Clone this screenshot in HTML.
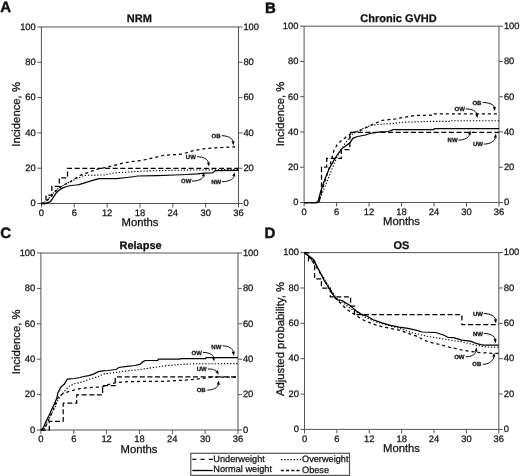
<!DOCTYPE html>
<html><head><meta charset="utf-8"><title>Figure</title>
<style>
html,body{margin:0;padding:0;background:#fff;}
body{width:520px;height:476px;overflow:hidden;}
svg{display:block;will-change:transform;text-rendering:geometricPrecision;font-family:"Liberation Sans",sans-serif;}
</style></head><body>
<svg width="520" height="476" viewBox="0 0 520 476">
<rect width="520" height="476" fill="#fff"/>
<g><rect x="41.4" y="27" width="197.1" height="176.5" fill="none" stroke="#555" stroke-width="1.0"/><path d="M37.4 203.5H41.4M238.5 203.5H242.5M37.4 168.2H41.4M238.5 168.2H242.5M37.4 132.9H41.4M238.5 132.9H242.5M37.4 97.6H41.4M238.5 97.6H242.5M37.4 62.3H41.4M238.5 62.3H242.5M37.4 27H41.4M238.5 27H242.5M41.4 203.5V207.5M74.25 203.5V207.5M107.1 203.5V207.5M139.95 203.5V207.5M172.8 203.5V207.5M205.65 203.5V207.5M238.5 203.5V207.5" fill="none" stroke="#555" stroke-width="1.0"/><g font-size="9.4" fill="#111" stroke="#111" stroke-width="0.25"><text x="35.8" y="206.3" text-anchor="end">0</text><text x="243.4" y="206.3">0</text><text x="35.8" y="171" text-anchor="end">20</text><text x="243.4" y="171">20</text><text x="35.8" y="135.7" text-anchor="end">40</text><text x="243.4" y="135.7">40</text><text x="35.8" y="100.4" text-anchor="end">60</text><text x="243.4" y="100.4">60</text><text x="35.8" y="65.1" text-anchor="end">80</text><text x="243.4" y="65.1">80</text><text x="35.8" y="29.8" text-anchor="end">100</text><text x="243.4" y="29.8">100</text><text x="41.4" y="215.7" text-anchor="middle">0</text><text x="74.25" y="215.7" text-anchor="middle">6</text><text x="107.1" y="215.7" text-anchor="middle">12</text><text x="139.95" y="215.7" text-anchor="middle">18</text><text x="172.8" y="215.7" text-anchor="middle">24</text><text x="205.65" y="215.7" text-anchor="middle">30</text><text x="238.5" y="215.7" text-anchor="middle">36</text></g><text x="140" y="226.1" text-anchor="middle" font-size="11.3" fill="#111" stroke="#111" stroke-width="0.25">Months</text><text transform="translate(20.4 114.4) rotate(-90)" text-anchor="middle" font-size="11.3" fill="#111" stroke="#111" stroke-width="0.25">Incidence, %</text><text x="139.3" y="21.9" text-anchor="middle" font-size="11" font-weight="bold" fill="#111" stroke="#111" stroke-width="0.25">NRM</text><text x="0.3" y="12.4" font-size="15" font-weight="bold" fill="#111" stroke="#111" stroke-width="0.45">A</text><path d="M41.4 203.5 45 202 50 197 55 191 60 187 65 184.5 69.4 182.1 79 177.8 83.8 175.4 93.5 175.2 104.6 174.9 114.2 173 123.8 172.3 133.5 171.7 143.1 171 180 170.2 238.5 169.5" fill="none" stroke="#000" stroke-width="1.1" stroke-dasharray="1.3 1.8"/><path d="M41.4 203.5 45 202 50 198 55 192 60 187.5 64.5 184.5 69.4 182.6 76.2 177.8 81.9 174.4 88.7 172.5 95.4 169.6 104.6 167.7 114.2 165.3 123.8 162.9 133.5 161.4 141.2 160.5 148.2 159 163.3 155.5 182.5 154 192.6 150.8 205.2 148.7 217.8 147.7 234.2 146.8 238.5 146.8" fill="none" stroke="#000" stroke-width="1.25" stroke-dasharray="3 3"/><path d="M41.4 203.5 46 203.5 46 195.2 51.8 195.2 51.8 186.4 59.3 186.4 59.3 177.8 67.5 177.8 67.5 168.4 238.5 168.4" fill="none" stroke="#000" stroke-width="1.25" stroke-dasharray="5 2.6"/><path d="M41.4 203.5 44.7 203.5 50.4 201.6 52.3 198.8 56.1 193.1 58.9 190.2 62.7 187.9 66.5 186.5 71.2 185.5 75.9 185 79 184.6 83.8 183.1 93.5 180.2 99.2 178.6 116.2 178.6 126.7 177.5 135.2 176.5 137.3 176 157.3 175.6 174.6 175 186.2 174.5 197.3 173.8 204.8 173.1 212.3 172.9 215.5 170.5 238.5 170.4" fill="none" stroke="#000" stroke-width="1.25" /></g>
<g><rect x="304.1" y="26.2" width="194.9" height="176.3" fill="none" stroke="#555" stroke-width="1.0"/><path d="M300.1 202.5H304.1M499 202.5H503M300.1 167.24H304.1M499 167.24H503M300.1 131.98H304.1M499 131.98H503M300.1 96.72H304.1M499 96.72H503M300.1 61.46H304.1M499 61.46H503M300.1 26.2H304.1M499 26.2H503M304.1 202.5V206.5M336.58 202.5V206.5M369.07 202.5V206.5M401.55 202.5V206.5M434.03 202.5V206.5M466.52 202.5V206.5M499 202.5V206.5" fill="none" stroke="#555" stroke-width="1.0"/><g font-size="9.4" fill="#111" stroke="#111" stroke-width="0.25"><text x="298.5" y="205.3" text-anchor="end">0</text><text x="503.9" y="205.3">0</text><text x="298.5" y="170.04" text-anchor="end">20</text><text x="503.9" y="170.04">20</text><text x="298.5" y="134.78" text-anchor="end">40</text><text x="503.9" y="134.78">40</text><text x="298.5" y="99.52" text-anchor="end">60</text><text x="503.9" y="99.52">60</text><text x="298.5" y="64.26" text-anchor="end">80</text><text x="503.9" y="64.26">80</text><text x="298.5" y="29" text-anchor="end">100</text><text x="503.9" y="29">100</text><text x="304.1" y="214.7" text-anchor="middle">0</text><text x="336.58" y="214.7" text-anchor="middle">6</text><text x="369.07" y="214.7" text-anchor="middle">12</text><text x="401.55" y="214.7" text-anchor="middle">18</text><text x="434.03" y="214.7" text-anchor="middle">24</text><text x="466.52" y="214.7" text-anchor="middle">30</text><text x="499" y="214.7" text-anchor="middle">36</text></g><text x="401.5" y="225.1" text-anchor="middle" font-size="11.3" fill="#111" stroke="#111" stroke-width="0.25">Months</text><text transform="translate(284.4 114) rotate(-90)" text-anchor="middle" font-size="11.3" fill="#111" stroke="#111" stroke-width="0.25">Incidence, %</text><text x="398.5" y="21.8" text-anchor="middle" font-size="11" font-weight="bold" fill="#111" stroke="#111" stroke-width="0.25">Chronic GVHD</text><text x="265" y="12.7" font-size="15" font-weight="bold" fill="#111" stroke="#111" stroke-width="0.45">B</text><path d="M304.1 202.5 318 202.5 322 194 326 184 330 174 334 164 338 155 342 148 346 142 353 133.5 365.4 127.3 373 125 380.8 124.2 393 123.5 403.8 122.2 430 121.4 451 121.4 451.5 120.7 499 120.7" fill="none" stroke="#000" stroke-width="1.1" stroke-dasharray="1.3 1.8"/><path d="M304.1 202.5 318 202.5 321 193 324 184 327 175 330 165 334.1 150 337 145 340.4 141.4 348.4 135.2 352 132.7 359.2 131.2 365.4 128 373 124.2 382.3 120.4 396.2 118.8 408.5 116.5 414.6 115.5 433.7 115.2 434 113.8 499 113.8" fill="none" stroke="#000" stroke-width="1.25" stroke-dasharray="3 3"/><path d="M304.1 202.5 319 202.5 321.5 192 321.5 167.1 326.7 167.1 326.7 158.4 341.3 158.4 341.3 149.5 349.8 149.5 349.8 132.3 499 132.3" fill="none" stroke="#000" stroke-width="1.25" stroke-dasharray="5 2.6"/><path d="M304.1 202.5 316 202.5 318 201.5 320.7 191.4 324.3 180.7 327.9 171.8 331.4 164.6 335 158.4 338.6 153 342.1 148.6 345.7 145.9 350 142.7 353.1 138.1 357.7 136.5 365.4 135 370 133.5 380.8 131.9 388.5 131.5 393.1 129.6 433.7 129.6 434.5 128.6 499 128.6" fill="none" stroke="#000" stroke-width="1.25" /></g>
<g><rect x="40.9" y="253" width="197.1" height="177" fill="none" stroke="#555" stroke-width="1.0"/><path d="M36.9 430H40.9M238 430H242M36.9 394.6H40.9M238 394.6H242M36.9 359.2H40.9M238 359.2H242M36.9 323.8H40.9M238 323.8H242M36.9 288.4H40.9M238 288.4H242M36.9 253H40.9M238 253H242M40.9 430V434M73.75 430V434M106.6 430V434M139.45 430V434M172.3 430V434M205.15 430V434M238 430V434" fill="none" stroke="#555" stroke-width="1.0"/><g font-size="9.4" fill="#111" stroke="#111" stroke-width="0.25"><text x="35.3" y="432.8" text-anchor="end">0</text><text x="242.9" y="432.8">0</text><text x="35.3" y="397.4" text-anchor="end">20</text><text x="242.9" y="397.4">20</text><text x="35.3" y="362" text-anchor="end">40</text><text x="242.9" y="362">40</text><text x="35.3" y="326.6" text-anchor="end">60</text><text x="242.9" y="326.6">60</text><text x="35.3" y="291.2" text-anchor="end">80</text><text x="242.9" y="291.2">80</text><text x="35.3" y="255.8" text-anchor="end">100</text><text x="242.9" y="255.8">100</text><text x="40.9" y="442.2" text-anchor="middle">0</text><text x="73.75" y="442.2" text-anchor="middle">6</text><text x="106.6" y="442.2" text-anchor="middle">12</text><text x="139.45" y="442.2" text-anchor="middle">18</text><text x="172.3" y="442.2" text-anchor="middle">24</text><text x="205.15" y="442.2" text-anchor="middle">30</text><text x="238" y="442.2" text-anchor="middle">36</text></g><text x="139" y="452.6" text-anchor="middle" font-size="11.3" fill="#111" stroke="#111" stroke-width="0.25">Months</text><text transform="translate(20.4 341.8) rotate(-90)" text-anchor="middle" font-size="11.3" fill="#111" stroke="#111" stroke-width="0.25">Incidence, %</text><text x="140.6" y="249" text-anchor="middle" font-size="11" font-weight="bold" fill="#111" stroke="#111" stroke-width="0.25">Relapse</text><text x="0.2" y="238.2" font-size="15" font-weight="bold" fill="#111" stroke="#111" stroke-width="0.45">C</text><path d="M40.9 430 44 429 46.8 423 51.2 414.7 55.7 405.9 58 400 60.8 395.8 64.6 391 69.4 386.2 74.2 383.8 79 382.8 83.8 381.3 88.7 379.4 93.5 378 98.3 376.5 103.1 374.1 117.5 372.2 126.9 370.9 140.4 369.5 153.8 367.5 167.3 365.5 178.5 364.6 195.4 363.8 238 363.6" fill="none" stroke="#000" stroke-width="1.1" stroke-dasharray="1.3 1.8"/><path d="M40.9 430 44 429 47 424 50 417 53 410 56 402 58.8 395.8 64.6 392.9 69.4 391.4 74.2 390 80 388.6 88.7 387.6 98.3 387.1 102.1 387.1 108 384.6 116.2 382.5 126.9 381.6 170 381.2 195.4 379.2 213.8 377 238 377" fill="none" stroke="#000" stroke-width="1.25" stroke-dasharray="3 3"/><path d="M40.9 430 49.3 430 49.3 421.3 63.2 421.3 63.2 403.2 76.7 403.2 76.7 394.8 102.6 394.8 102.6 385.7 115.2 385.7 115.2 376.9 238 376.9" fill="none" stroke="#000" stroke-width="1.25" stroke-dasharray="5 2.6"/><path d="M40.9 430 43.3 428 45.5 422.5 47.7 418 49.9 413.8 52.1 408.5 54.8 403.2 56.9 397.7 57.9 392.9 60.8 387.1 64.6 383.8 66.5 380.4 67.5 379.2 74.2 378.5 80 377.5 83.8 376.5 88.7 375.6 93.5 374.1 98.3 371.7 103.1 370.8 108.1 370.5 116.2 369.5 118.8 367.5 126.9 366.4 135 365.5 140.4 364.1 142.4 362.1 145.1 360.5 157.7 360.4 158.5 359.2 180 359.2 181 358.5 205.6 358.5 206.2 357.6 238 357.6" fill="none" stroke="#000" stroke-width="1.25" /></g>
<g><rect x="304.5" y="252.6" width="194.3" height="176.8" fill="none" stroke="#555" stroke-width="1.0"/><path d="M300.5 429.4H304.5M498.8 429.4H502.8M300.5 394.04H304.5M498.8 394.04H502.8M300.5 358.68H304.5M498.8 358.68H502.8M300.5 323.32H304.5M498.8 323.32H502.8M300.5 287.96H304.5M498.8 287.96H502.8M300.5 252.6H304.5M498.8 252.6H502.8M304.5 429.4V433.4M336.88 429.4V433.4M369.27 429.4V433.4M401.65 429.4V433.4M434.03 429.4V433.4M466.42 429.4V433.4M498.8 429.4V433.4" fill="none" stroke="#555" stroke-width="1.0"/><g font-size="9.4" fill="#111" stroke="#111" stroke-width="0.25"><text x="298.9" y="432.2" text-anchor="end">0</text><text x="503.7" y="432.2">0</text><text x="298.9" y="396.84" text-anchor="end">20</text><text x="503.7" y="396.84">20</text><text x="298.9" y="361.48" text-anchor="end">40</text><text x="503.7" y="361.48">40</text><text x="298.9" y="326.12" text-anchor="end">60</text><text x="503.7" y="326.12">60</text><text x="298.9" y="290.76" text-anchor="end">80</text><text x="503.7" y="290.76">80</text><text x="298.9" y="255.4" text-anchor="end">100</text><text x="503.7" y="255.4">100</text><text x="304.5" y="441.6" text-anchor="middle">0</text><text x="336.88" y="441.6" text-anchor="middle">6</text><text x="369.27" y="441.6" text-anchor="middle">12</text><text x="401.65" y="441.6" text-anchor="middle">18</text><text x="434.03" y="441.6" text-anchor="middle">24</text><text x="466.42" y="441.6" text-anchor="middle">30</text><text x="498.8" y="441.6" text-anchor="middle">36</text></g><text x="401.5" y="452" text-anchor="middle" font-size="11.3" fill="#111" stroke="#111" stroke-width="0.25">Months</text><text transform="translate(283.7 339) rotate(-90)" text-anchor="middle" font-size="11.3" fill="#111" stroke="#111" stroke-width="0.25">Adjusted probability, %</text><text x="401.5" y="248.6" text-anchor="middle" font-size="11" font-weight="bold" fill="#111" stroke="#111" stroke-width="0.25">OS</text><text x="264.6" y="237.5" font-size="15" font-weight="bold" fill="#111" stroke="#111" stroke-width="0.45">D</text><path d="M304.5 252.6 310 257.5 315 264 320 272 325 280 330 288.5 336 297.5 345 304.5 355 311.5 365 317 375 321.5 385 324.5 400 328.5 410 332 427.3 336.3 448 339.8 461.6 341.8 475.3 345.2 486.2 346.9 498.8 347.3" fill="none" stroke="#000" stroke-width="1.1" stroke-dasharray="1.3 1.8"/><path d="M304.5 252.6 310 258 315 265 320 273 325 281 330 290 335.8 298.5 341 303.6 346.3 308.9 351.5 312.5 356 315.5 364.6 320.7 373.3 324.1 381.9 326.7 399.2 330.2 416.5 336.2 427.3 341.5 444.6 345.8 450 347.3 461.6 350 475.3 352.1 480.7 352.7 494.4 353.4 498.8 353.4" fill="none" stroke="#000" stroke-width="1.25" stroke-dasharray="3 3"/><path d="M304.5 252.6 308.5 252.6 308.5 260.8 314.6 260.8 314.6 278.9 321.4 278.9 321.4 288 330.3 288 330.3 296.8 350.6 296.8 350.6 306 354.5 306 354.5 314.7 461.9 314.7 461.9 324.7 498.8 324.7" fill="none" stroke="#000" stroke-width="1.25" stroke-dasharray="5 2.6"/><path d="M304.5 252.6 309.3 256.3 313.5 259.4 317.7 267.8 320 272.1 324.2 280.5 329.5 288.9 334.7 297.3 337.3 299.9 342.1 300.5 345.2 302.6 350.5 305.7 355.7 310.4 361 314.1 367.3 316.2 373.3 319.8 381.9 322.9 390.6 325.3 399.2 327.1 407.9 328.4 416.9 330.3 422.1 332 436 332.5 444.6 335.5 448 337.5 453.5 337.7 461.6 340.2 470.5 341.2 475.3 343.2 480.7 344.6 483.5 345.2 498.8 345.2" fill="none" stroke="#000" stroke-width="1.25" /></g>
<g><text x="211.5" y="137.8" font-size="6" font-weight="bold" fill="#111" stroke="#111" stroke-width="0.25">OB</text><path d="M221.6 135.7C227.86 135.7 232.52 138.23 232.98 141.25" fill="none" stroke="#000" stroke-width="0.95"/><path d="M233.6 145.4L231.44 141.48L234.51 141.02Z" fill="#000"/><text x="185.8" y="159" font-size="6" font-weight="bold" fill="#111" stroke="#111" stroke-width="0.25">UW</text><path d="M197 156.7C203.26 156.7 207.91 159.32 208.38 162.45" fill="none" stroke="#000" stroke-width="0.95"/><path d="M209 166.6L206.84 162.68L209.91 162.22Z" fill="#000"/><text x="181" y="183" font-size="6" font-weight="bold" fill="#111" stroke="#111" stroke-width="0.25">OW</text><path d="M192 181.1C198.26 181.1 202.99 178.94 203.38 176.35" fill="none" stroke="#000" stroke-width="0.95"/><path d="M204 172.2L204.91 176.58L201.84 176.12Z" fill="#000"/><text x="211.2" y="184" font-size="6" font-weight="bold" fill="#111" stroke="#111" stroke-width="0.25">NW</text><path d="M221.9 181.7C228.49 181.7 233.44 179.26 233.88 176.35" fill="none" stroke="#000" stroke-width="0.95"/><path d="M234.5 172.2L235.41 176.58L232.34 176.12Z" fill="#000"/><text x="472.4" y="104.5" font-size="6" font-weight="bold" fill="#111" stroke="#111" stroke-width="0.25">OB</text><path d="M482.6 102.5C489.02 102.5 493.91 104.57 494.28 107.05" fill="none" stroke="#000" stroke-width="0.95"/><path d="M494.9 111.2L492.74 107.28L495.81 106.82Z" fill="#000"/><text x="454.5" y="111" font-size="6" font-weight="bold" fill="#111" stroke="#111" stroke-width="0.25">OW</text><path d="M465.8 108.9C471.84 108.9 476.37 111.2 476.78 113.95" fill="none" stroke="#000" stroke-width="0.95"/><path d="M477.4 118.1L475.24 114.18L478.31 113.72Z" fill="#000"/><text x="447.6" y="142.2" font-size="6" font-weight="bold" fill="#111" stroke="#111" stroke-width="0.25">NW</text><path d="M458.3 140.1C464.5 140.1 469.12 137.52 469.58 134.45" fill="none" stroke="#000" stroke-width="0.95"/><path d="M470.2 130.3L471.11 134.68L468.04 134.22Z" fill="#000"/><text x="473" y="145.9" font-size="6" font-weight="bold" fill="#111" stroke="#111" stroke-width="0.25">UW</text><path d="M483.7 144.1C490.07 144.1 494.77 141.25 495.28 137.85" fill="none" stroke="#000" stroke-width="0.95"/><path d="M495.9 133.7L496.81 138.08L493.74 137.62Z" fill="#000"/><text x="211.3" y="348.8" font-size="6" font-weight="bold" fill="#111" stroke="#111" stroke-width="0.25">NW</text><path d="M222.7 345.8C228.52 345.8 232.78 348.56 233.28 351.85" fill="none" stroke="#000" stroke-width="0.95"/><path d="M233.9 356L231.74 352.08L234.81 351.62Z" fill="#000"/><text x="191.6" y="354.8" font-size="6" font-weight="bold" fill="#111" stroke="#111" stroke-width="0.25">OW</text><path d="M203 352.4C208.76 352.4 213.08 354.61 213.48 357.25" fill="none" stroke="#000" stroke-width="0.95"/><path d="M214.1 361.4L211.94 357.48L215.01 357.02Z" fill="#000"/><text x="196.7" y="370.9" font-size="6" font-weight="bold" fill="#111" stroke="#111" stroke-width="0.25">UW</text><path d="M207.8 368.9C212.58 368.9 215.78 370.14 216.49 371.16" fill="none" stroke="#000" stroke-width="0.95"/><path d="M218.9 374.6L215.22 372.05L217.76 370.27Z" fill="#000"/><text x="196.7" y="391.9" font-size="6" font-weight="bold" fill="#111" stroke="#111" stroke-width="0.25">OB</text><path d="M207.2 390.1C213.29 390.1 217.83 387.62 218.28 384.65" fill="none" stroke="#000" stroke-width="0.95"/><path d="M218.9 380.5L219.81 384.88L216.74 384.42Z" fill="#000"/><text x="472.9" y="315.9" font-size="6" font-weight="bold" fill="#111" stroke="#111" stroke-width="0.25">UW</text><path d="M483.7 313.5C490.12 313.5 494.91 316.12 495.38 319.25" fill="none" stroke="#000" stroke-width="0.95"/><path d="M496 323.4L493.84 319.48L496.91 319.02Z" fill="#000"/><text x="472.9" y="335.7" font-size="6" font-weight="bold" fill="#111" stroke="#111" stroke-width="0.25">NW</text><path d="M483.7 333.4C489.96 333.4 494.62 335.98 495.08 339.05" fill="none" stroke="#000" stroke-width="0.95"/><path d="M495.7 343.2L493.54 339.28L496.61 338.82Z" fill="#000"/><text x="454.2" y="358.9" font-size="6" font-weight="bold" fill="#111" stroke="#111" stroke-width="0.25">OW</text><path d="M465.7 356.8C471.35 356.8 475.54 354.36 475.98 351.45" fill="none" stroke="#000" stroke-width="0.95"/><path d="M476.6 347.3L477.51 351.68L474.44 351.22Z" fill="#000"/><text x="472.3" y="366.4" font-size="6" font-weight="bold" fill="#111" stroke="#111" stroke-width="0.25">OB</text><path d="M482.8 364.3C488.84 364.3 493.17 360.9 493.78 356.85" fill="none" stroke="#000" stroke-width="0.95"/><path d="M494.4 352.7L495.31 357.08L492.24 356.62Z" fill="#000"/></g>
<g><rect x="190.8" y="453.3" width="158.7" height="22.1" fill="#fff" stroke="#555" stroke-width="1.2"/><path d="M192.3 459.4H212.8" stroke="#000" stroke-width="1.3" stroke-dasharray="4 4.25"/><path d="M192.3 470.5H212.8" stroke="#000" stroke-width="1.3"/><path d="M281 459.6H301" stroke="#000" stroke-width="1.2" stroke-dasharray="1.4 1.75"/><path d="M280.9 470.5H300" stroke="#000" stroke-width="1.3" stroke-dasharray="3 2.2"/><g font-size="9.2" fill="#111" stroke="#111" stroke-width="0.25"><text x="213.3" y="461.9">Underweight</text><text x="213.3" y="472.4">Normal weight</text><text x="302" y="462.0">Overweight</text><text x="302" y="472.6">Obese</text></g></g>
</svg>
</body></html>
